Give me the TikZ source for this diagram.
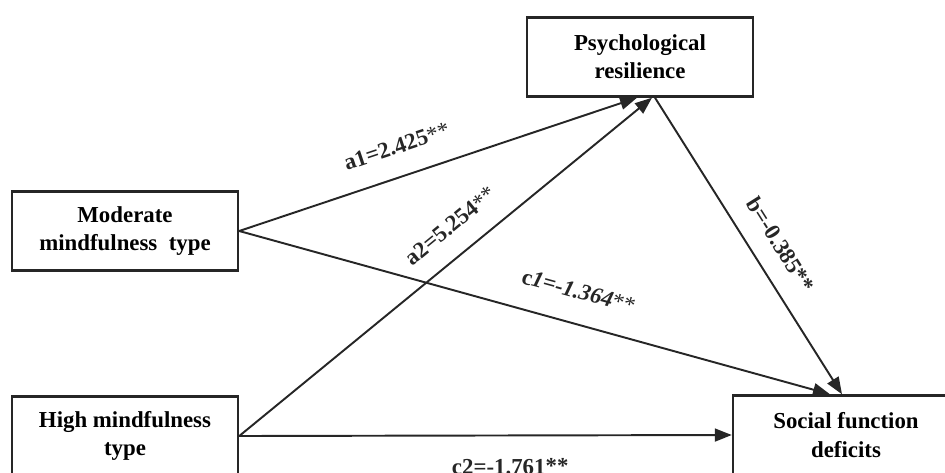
\documentclass[tikz,border=0pt]{standalone}
\usepackage{fontspec}
\setmainfont{Liberation Serif}
\usetikzlibrary{arrows.meta}
\definecolor{inkx}{HTML}{262626}
\tikzset{
  ar/.style={-{Triangle[length=3.4mm,width=2.6mm]},line width=1.1pt,inkx},
  box/.style={draw=inkx,line width=1.4pt,align=center,minimum width=45.2mm,minimum height=15.8mm,inner sep=2pt,font=\bfseries\fontsize{13}{16}\selectfont},
  lbl/.style={font=\bfseries\fontsize{13}{15}\selectfont,sloped,inner sep=2pt,text=inkx}
}

\begin{document}
\begin{tikzpicture}[x=0.2mm,y=-0.2mm]
\path[use as bounding box,clip] (0,0) rectangle (945,472);
\node[box] (psy) at (640,57) {Psychological\\resilience};
\node[box] (mod) at (125,231) {Moderate\\mindfulness\ \ type};
\node[box] (high) at (125,436) {High mindfulness\\type};
\node[box] (soc) at (846,435) {Social function\\deficits};
% paths a, b, c
\draw[ar] (mod.east) -- ([xshift=-0.6mm]psy.south) node[lbl,pos=0.42,above=3.6mm] {a1=2.425{\mdseries**}};
\draw[ar] (high.east) -- ([xshift=2.4mm]psy.south) node[lbl,pos=0.556,above=3.3mm] {a2=5.254{\mdseries**}};
\draw[ar] ([xshift=3mm]psy.south) -- ([xshift=-0.8mm]soc.north) node[lbl,pos=0.546,above=3.1mm] {b=-0.385**};
\draw[ar] (mod.east) -- ([xshift=-3.2mm]soc.north) node[lbl,pos=0.56,above=4mm] {c\textit{1=-1.364}{\mdseries**}};
\draw[ar] (high.east) -- (soc.west) node[lbl,pos=0.55,below=3.8mm] {c2=-1.761**};
\end{tikzpicture}
\end{document}
